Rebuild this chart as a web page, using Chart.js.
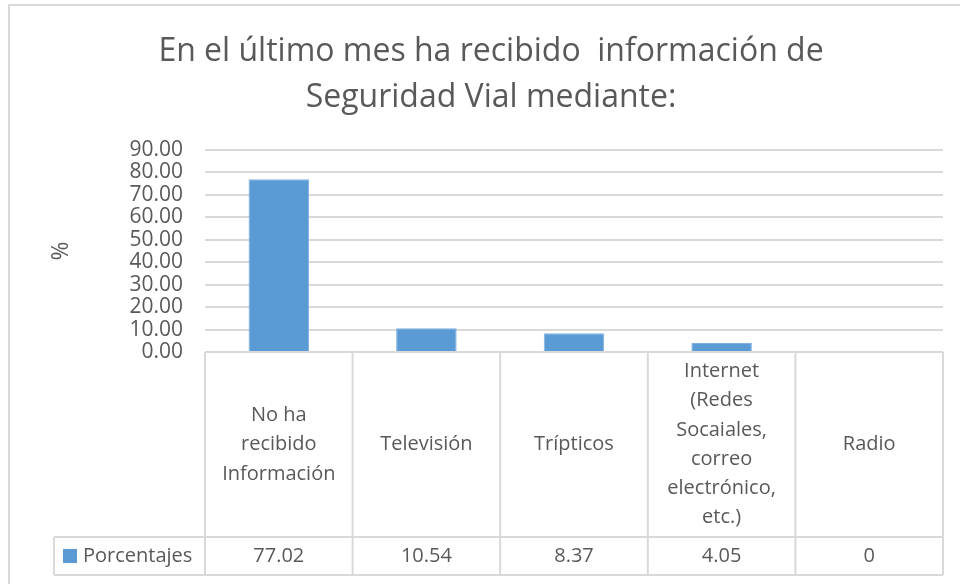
<!DOCTYPE html>
<html lang="es">
<head>
<meta charset="utf-8">
<title>Seguridad Vial</title>
<script src="https://cdn.jsdelivr.net/npm/chart.js@4.4.1/dist/chart.umd.min.js"></script>
<style>
    html, body { margin: 0; padding: 0; background: #fff; }
    canvas { display: block; }
</style>
</head>
<body>
<canvas id="grafico" width="960" height="584"></canvas>
<script>
// datos de la encuesta
const categorias = [
    ['No ha', 'recibido', 'Información'],
    ['Televisión'],
    ['Trípticos'],
    ['Internet', '(Redes', 'Socaiales,', 'correo', 'electrónico,', 'etc.)'],
    ['Radio']
];
const porcentajes = [77.02, 10.54, 8.37, 4.05, 0];
const nombreSerie = 'Porcentajes';
const titulo = ['En el último mes ha recibido  información de', 'Seguridad Vial mediante:'];
const tituloEje = '%';
const ejeMin = 0;
const ejeMax = 90;
const ejePaso = 10;

const FUENTE = '"Open Sans", Lato, sans-serif';
const GRIS_TEXTO = '#595959';
const GRIS_LINEA = '#d9d9d9';
const AZUL = '#5b9bd5';

// marco exterior y titulo
const marcoYTitulo = {
    id: 'marcoYTitulo',
    beforeDraw(chart) {
        const ctx = chart.ctx;
        ctx.save();
        ctx.strokeStyle = GRIS_LINEA;
        ctx.lineWidth = 2;
        ctx.beginPath();
        ctx.moveTo(9, chart.height);
        ctx.lineTo(9, 5);
        ctx.lineTo(chart.width, 5);
        ctx.stroke();

        ctx.fillStyle = GRIS_TEXTO;
        ctx.font = '32px ' + FUENTE;
        ctx.textAlign = 'center';
        ctx.textBaseline = 'alphabetic';
        titulo.forEach((linea, i) => ctx.fillText(linea, 491, 61 + i * 46));
        ctx.restore();
    }
};

// tabla de datos debajo del grafico
const tablaDatos = {
    id: 'tablaDatos',
    afterDraw(chart) {
        const ctx = chart.ctx;
        const area = chart.chartArea;
        const xs = chart.scales.x;
        const n = categorias.length;
        const anchoCol = (area.right - area.left) / n;
        const filaCab = 537;
        const filaFin = 575;
        const leyendaIzq = 54;

        ctx.save();
        ctx.strokeStyle = GRIS_LINEA;
        ctx.lineWidth = 2;
        ctx.beginPath();
        // horizontales
        ctx.moveTo(area.left, area.bottom); ctx.lineTo(area.right, area.bottom);
        ctx.moveTo(leyendaIzq, filaCab); ctx.lineTo(area.right, filaCab);
        ctx.moveTo(leyendaIzq, filaFin); ctx.lineTo(area.right, filaFin);
        // verticales
        for (let i = 0; i <= n; i++) {
            const x = area.left + i * anchoCol;
            ctx.moveTo(x, area.bottom); ctx.lineTo(x, filaFin);
        }
        ctx.moveTo(leyendaIzq, filaCab); ctx.lineTo(leyendaIzq, filaFin);
        ctx.stroke();

        ctx.fillStyle = GRIS_TEXTO;
        ctx.font = '20px ' + FUENTE;
        ctx.textAlign = 'center';
        ctx.textBaseline = 'middle';
        const altoLinea = 29.3;
        const centroCab = (area.bottom + filaCab) / 2;
        categorias.forEach((lineas, i) => {
            const cx = xs.getPixelForValue(i);
            const y0 = centroCab - (lineas.length - 1) * altoLinea / 2;
            lineas.forEach((t, j) => ctx.fillText(t, cx, y0 + j * altoLinea));
            ctx.fillText(String(porcentajes[i]), cx, (filaCab + filaFin) / 2);
        });

        // leyenda de la serie
        ctx.fillStyle = AZUL;
        ctx.fillRect(63, 549, 14, 14);
        ctx.fillStyle = GRIS_TEXTO;
        ctx.textAlign = 'left';
        ctx.fillText(nombreSerie, 83, (filaCab + filaFin) / 2);
        ctx.restore();
    }
};

new Chart(document.getElementById('grafico'), {
    type: 'bar',
    data: {
        labels: categorias.map(c => c.join(' ')),
        datasets: [{
            label: nombreSerie,
            data: porcentajes,
            backgroundColor: AZUL,
            borderColor: '#7fb1e0',
            borderWidth: 1,
            barPercentage: 0.41,
            categoryPercentage: 1
        }]
    },
    options: {
        responsive: false,
        animation: false,
        layout: { padding: { top: 150, left: 10, right: 17, bottom: 232 } },
        plugins: {
            legend: { display: false },
            title: { display: false },
            tooltip: { enabled: false }
        },
        scales: {
            x: { display: false },
            y: {
                min: ejeMin,
                max: ejeMax,
                afterFit(scale) { scale.width = 195; },
                ticks: {
                    stepSize: ejePaso,
                    autoSkip: false,
                    padding: 22,
                    color: GRIS_TEXTO,
                    font: { family: FUENTE, size: 21 },
                    callback: v => v.toFixed(2)
                },
                grid: { color: GRIS_LINEA, lineWidth: 2, drawTicks: false },
                border: { display: false },
                title: {
                    display: true,
                    text: tituloEje,
                    color: GRIS_TEXTO,
                    font: { family: FUENTE, size: 23 },
                    padding: { top: 38, bottom: 0 }
                }
            }
        }
    },
    plugins: [marcoYTitulo, tablaDatos]
});
</script>
</body>
</html>
